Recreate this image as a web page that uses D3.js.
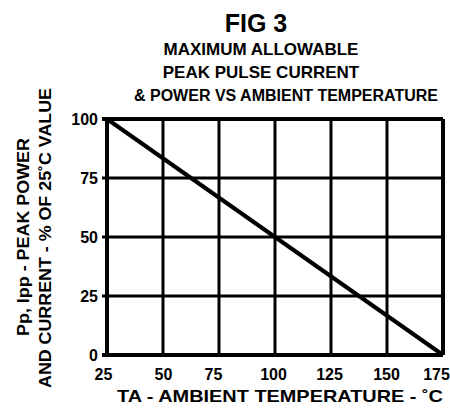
<!DOCTYPE html>
<html>
<head>
<meta charset="utf-8">
<script src="https://cdn.jsdelivr.net/npm/d3@7"></script>
<style>
  body { margin: 0; background: #fff; }
  text { font-family: "Liberation Sans", Arial, sans-serif; font-weight: bold; fill: #000; }
</style>
</head>
<body>
<div id="chart"></div>
<script>
// Chart values.
const titleLines = ['MAXIMUM ALLOWABLE', 'PEAK PULSE CURRENT', '& POWER VS AMBIENT TEMPERATURE'];
const tempTicks = [25, 50, 75, 100, 125, 150, 175];
const pctTicks = [0, 25, 50, 75, 100];
const deratingTemp = [25, 175];
const deratingPct = [100, 0];

const W = 450, H = 412;
const margin = { top: 119, right: 7, bottom: 57, left: 107 };
const width = W - margin.left - margin.right;
const height = H - margin.top - margin.bottom;

const svg = d3.select('#chart').append('svg')
  .attr('width', W)
  .attr('height', H);

// Titles.
svg.append('text')
  .attr('x', 256).attr('y', 32)
  .attr('text-anchor', 'middle')
  .style('font-size', '25px')
  .text('FIG 3');

const titleX = [261, 261, 286];
const titleSize = [17, 17, 16];
titleLines.forEach((t, i) => {
  svg.append('text')
    .attr('x', titleX[i]).attr('y', 55 + i * 23)
    .attr('text-anchor', 'middle')
    .style('font-size', titleSize[i] + 'px')
    .text(t);
});

const g = svg.append('g')
  .attr('transform', `translate(${margin.left},${margin.top})`);

const x = d3.scaleLinear().domain([25, 175]).range([0, width]);
const y = d3.scaleLinear().domain([0, 100]).range([height, 0]);

// Grid lines.
g.append('g')
  .selectAll('line')
  .data(pctTicks)
  .join('line')
  .attr('x1', -5).attr('x2', width)
  .attr('y1', d => y(d)).attr('y2', d => y(d))
  .attr('stroke', '#000')
  .attr('stroke-width', d => (d === 0 || d === 100) ? 4 : 3);

g.append('g')
  .selectAll('line')
  .data(tempTicks)
  .join('line')
  .attr('x1', d => x(d)).attr('x2', d => x(d))
  .attr('y1', 0).attr('y2', height)
  .attr('stroke', '#000')
  .attr('stroke-width', d => (d === 25 || d === 175) ? 4 : 3);

// Axes labels only.
const yAxis = g.append('g')
  .call(d3.axisLeft(y).tickValues(pctTicks).tickSize(0).tickPadding(9));
yAxis.select('.domain').remove();
yAxis.selectAll('text')
  .style('font-size', '16px')
  .style('font-family', '"Liberation Sans", Arial, sans-serif')
  .style('font-weight', 'bold');

// small nudges so the labels sit like the scan
const xLabelShift = [-4, 0, -6, -2, -2, -1, -7];
const xAxis = g.append('g')
  .attr('transform', `translate(0,${height})`)
  .call(d3.axisBottom(x).tickValues(tempTicks).tickSize(0).tickPadding(14));
xAxis.select('.domain').remove();
xAxis.selectAll('text')
  .attr('dx', (d, i) => xLabelShift[i])
  .style('font-size', '16px')
  .style('font-family', '"Liberation Sans", Arial, sans-serif')
  .style('font-weight', 'bold');

// Derating line.
const line = d3.line()
  .x((d, i) => x(deratingTemp[i]))
  .y(d => y(d));

g.append('path')
  .datum(deratingPct)
  .attr('fill', 'none')
  .attr('stroke', '#000')
  .attr('stroke-width', 4)
  .attr('d', line);

// Axis titles.
svg.append('text')
  .attr('x', 280).attr('y', 402)
  .attr('text-anchor', 'middle')
  .attr('textLength', 326)
  .attr('lengthAdjust', 'spacingAndGlyphs')
  .style('font-size', '17px')
  .text('TA - AMBIENT TEMPERATURE - ˚C');

const yMid = margin.top + height / 2;
svg.append('text')
  .attr('transform', `translate(29,${yMid}) rotate(-90)`)
  .attr('text-anchor', 'middle')
  .attr('textLength', 198)
  .attr('lengthAdjust', 'spacingAndGlyphs')
  .style('font-size', '17px')
  .text('Pp, Ipp - PEAK POWER');

svg.append('text')
  .attr('transform', `translate(51,${yMid + 1}) rotate(-90)`)
  .attr('text-anchor', 'middle')
  .attr('textLength', 300)
  .attr('lengthAdjust', 'spacingAndGlyphs')
  .style('font-size', '17px')
  .text('AND CURRENT - % OF 25˚C VALUE');
</script>
</body>
</html>
